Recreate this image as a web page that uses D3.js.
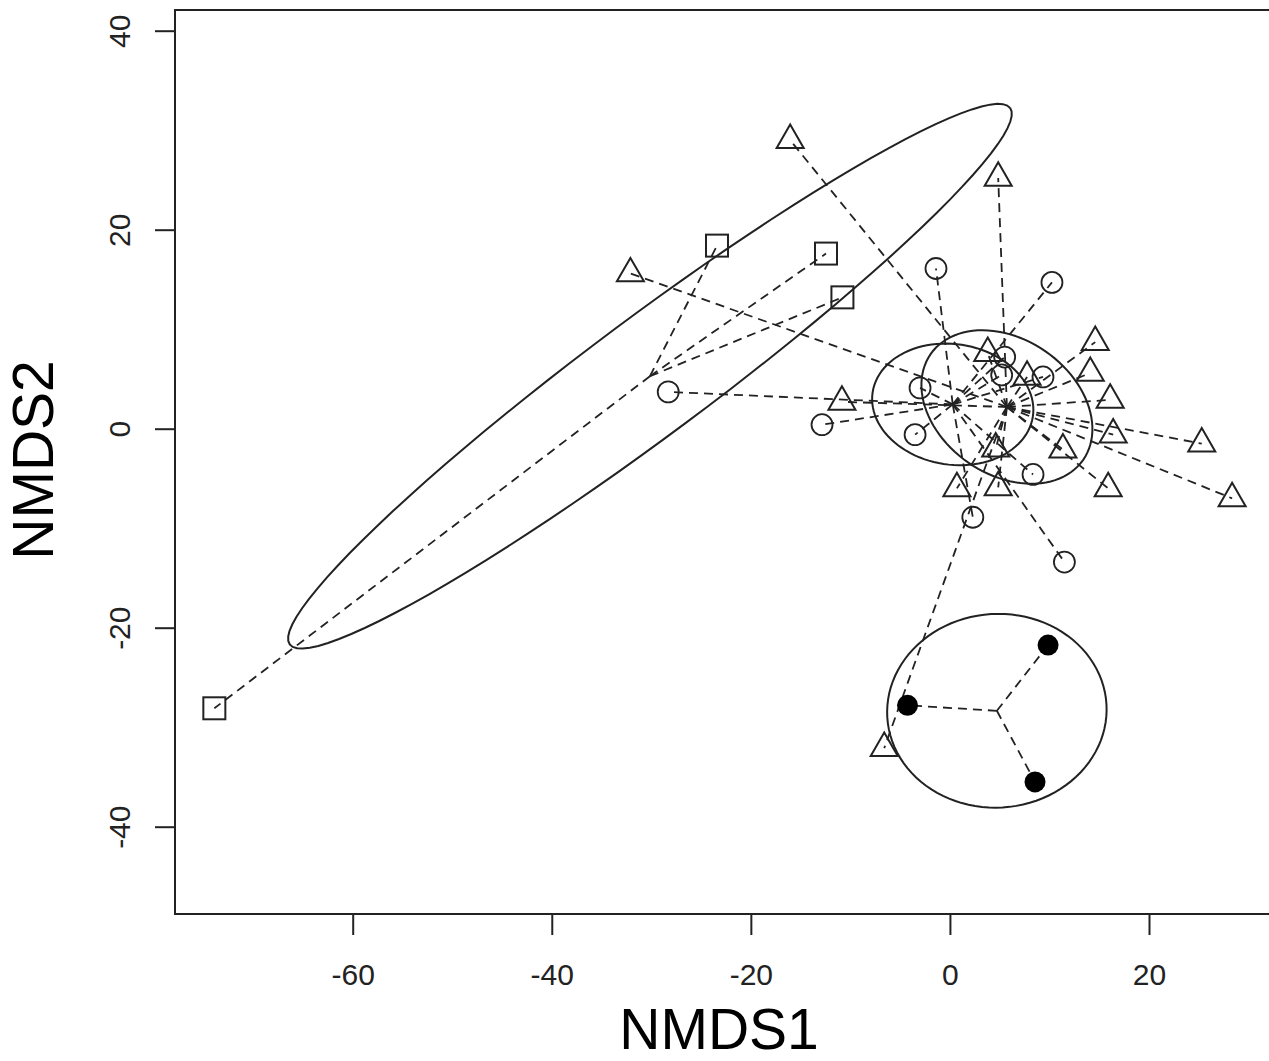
<!DOCTYPE html>
<html>
<head>
<meta charset="utf-8">
<script src="https://cdn.jsdelivr.net/npm/d3@7"></script>
<style>
  body { margin: 0; background: #fff; }
  text { font-family: "Liberation Sans", Arial, sans-serif; }
</style>
</head>
<body>
<svg id="chart"></svg>
<script>
// NMDS scores, one array per group
const squares = [[-23.4, 18.4], [-12.45, 17.6], [-10.8, 13.2], [-73.9, -28.1]]
const circles = [
  [-1.4, 16.1], [10.25, 14.7], [-28.3, 3.7], [-12.85, 0.4], [-3.0, 4.1], [-3.5, -0.6],
  [5.5, 7.2], [5.2, 5.4], [9.35, 5.2], [8.35, -4.6], [2.3, -8.9], [11.5, -13.4]
]
const triangles = [
  [-16.05, 29.0], [-32.1, 15.6], [4.85, 25.2], [-10.85, 2.7], [14.6, 8.7], [14.1, 5.6],
  [16.1, 2.9], [16.4, -0.6], [11.35, -2.1], [25.3, -1.5], [28.35, -7.0], [15.9, -6.0],
  [0.7, -6.0], [4.85, -5.9], [3.8, 7.6], [7.75, 5.2], [4.6, -2.0], [-6.6, -32.1]
]
const filled = [[-4.26, -27.8], [9.86, -21.75], [8.55, -35.5]]

const xTicks = [-60, -40, -20, 0, 20]
const yTicks = [-40, -20, 0, 20, 40]
const xTitle = "NMDS1"
const yTitle = "NMDS2"

const groups = [
  {pts: squares, shape: "square"},
  {pts: circles, shape: "circle"},
  {pts: triangles, shape: "triangle"},
  {pts: filled, shape: "dot"}
]

const width = 1269, height = 1061
const box = {left: 175, top: 10, right: 1276, bottom: 914}
const ink = "#222"

const svg = d3.select("#chart").attr("width", width).attr("height", height)

const x = d3.scaleLinear().domain([-60, 20]).range([352.7, 1149])
const y = d3.scaleLinear().domain([-40, 40]).range([826.7, 30.7])

// axes
const xAxis = svg.append("g")
  .attr("transform", `translate(0,${box.bottom})`)
  .call(d3.axisBottom(x).tickValues(xTicks).tickSize(21).tickFormat(d => String(d)))
xAxis.select(".domain").remove()
xAxis.selectAll(".tick line").attr("stroke", ink).attr("stroke-width", 2)
xAxis.selectAll(".tick text")
  .attr("y", 71).attr("dy", 0)
  .attr("fill", ink).attr("font-size", 30)
  .style("font-family", '"Liberation Sans", Arial, sans-serif')

const yAxis = svg.append("g")
  .attr("transform", `translate(${box.left},0)`)
  .call(d3.axisLeft(y).tickValues(yTicks).tickSize(20).tickFormat(d => String(d)))
yAxis.select(".domain").remove()
yAxis.selectAll(".tick line").attr("stroke", ink).attr("stroke-width", 2)
yAxis.selectAll(".tick text")
  .attr("x", null).attr("dy", 0)
  .attr("text-anchor", "middle")
  .attr("transform", "translate(-45,0) rotate(-90)")
  .attr("fill", ink).attr("font-size", 30)
  .style("font-family", '"Liberation Sans", Arial, sans-serif')

svg.append("rect")
  .attr("x", box.left).attr("y", box.top)
  .attr("width", box.right - box.left).attr("height", box.bottom - box.top)
  .attr("fill", "none").attr("stroke", ink).attr("stroke-width", 2)

// titles
svg.append("text")
  .attr("x", 719).attr("y", 1049)
  .attr("text-anchor", "middle").attr("font-size", 57).attr("fill", "#000")
  .text(xTitle)

svg.append("text")
  .attr("transform", "translate(53,460) rotate(-90)")
  .attr("text-anchor", "middle").attr("font-size", 57).attr("fill", "#000")
  .text(yTitle)

const plot = svg.append("g")

// 95% confidence ellipse of the group centroid (kind = "se")
function seEllipse(pts) {
  const n = pts.length
  const mx = d3.mean(pts, d => d[0]), my = d3.mean(pts, d => d[1])
  let sxx = 0, syy = 0, sxy = 0
  pts.forEach(p => {
    sxx += (p[0] - mx) ** 2
    syy += (p[1] - my) ** 2
    sxy += (p[0] - mx) * (p[1] - my)
  })
  const k = 5.991465 / (n * (n - 1))
  const a = sxx * k, c = syy * k, b = sxy * k
  const half = (a + c) / 2, disc = Math.sqrt(((a - c) / 2) ** 2 + b * b)
  const l1 = half + disc, l2 = Math.max(half - disc, 0)
  const th = Math.abs(b) < 1e-12 ? (a >= c ? 0 : Math.PI / 2) : Math.atan2(l1 - a, b)
  const r1 = Math.sqrt(l1), r2 = Math.sqrt(l2)
  return d3.range(0, 101).map(i => {
    const t = i / 100 * 2 * Math.PI
    const u = r1 * Math.cos(t), v = r2 * Math.sin(t)
    return [mx + u * Math.cos(th) - v * Math.sin(th), my + u * Math.sin(th) + v * Math.cos(th)]
  })
}

const line = d3.line().x(d => x(d[0])).y(d => y(d[1]))

groups.forEach(g => {
  plot.append("path")
    .attr("d", line(seEllipse(g.pts)))
    .attr("fill", "none").attr("stroke", ink).attr("stroke-width", 2)
})

// spiders from centroid to each point
groups.forEach(g => {
  const cx = d3.mean(g.pts, d => d[0]), cy = d3.mean(g.pts, d => d[1])
  plot.append("g").selectAll("line")
    .data(g.pts)
    .enter().append("line")
    .attr("x1", x(cx)).attr("y1", y(cy))
    .attr("x2", d => x(d[0])).attr("y2", d => y(d[1]))
    .attr("stroke", ink).attr("stroke-width", 1.8)
    .attr("stroke-dasharray", "9,6")
})

// symbols
const tr = 15.6
const triPath = `M0,${-tr}L${tr * 0.866},${tr / 2}L${-tr * 0.866},${tr / 2}Z`

groups.forEach(g => {
  const sel = plot.append("g").selectAll("path")
    .data(g.pts)
    .enter()
  if (g.shape === "square") {
    sel.append("rect")
      .attr("x", d => x(d[0]) - 11).attr("y", d => y(d[1]) - 11)
      .attr("width", 22).attr("height", 22)
      .attr("fill", "none").attr("stroke", ink).attr("stroke-width", 2)
  } else if (g.shape === "circle") {
    sel.append("circle")
      .attr("cx", d => x(d[0])).attr("cy", d => y(d[1])).attr("r", 10.5)
      .attr("fill", "none").attr("stroke", ink).attr("stroke-width", 1.8)
  } else if (g.shape === "triangle") {
    sel.append("path")
      .attr("transform", d => `translate(${x(d[0])},${y(d[1])})`)
      .attr("d", triPath)
      .attr("fill", "none").attr("stroke", ink).attr("stroke-width", 2)
  } else {
    sel.append("circle")
      .attr("cx", d => x(d[0])).attr("cy", d => y(d[1])).attr("r", 10.5)
      .attr("fill", "#000")
  }
})
</script>
</body>
</html>
